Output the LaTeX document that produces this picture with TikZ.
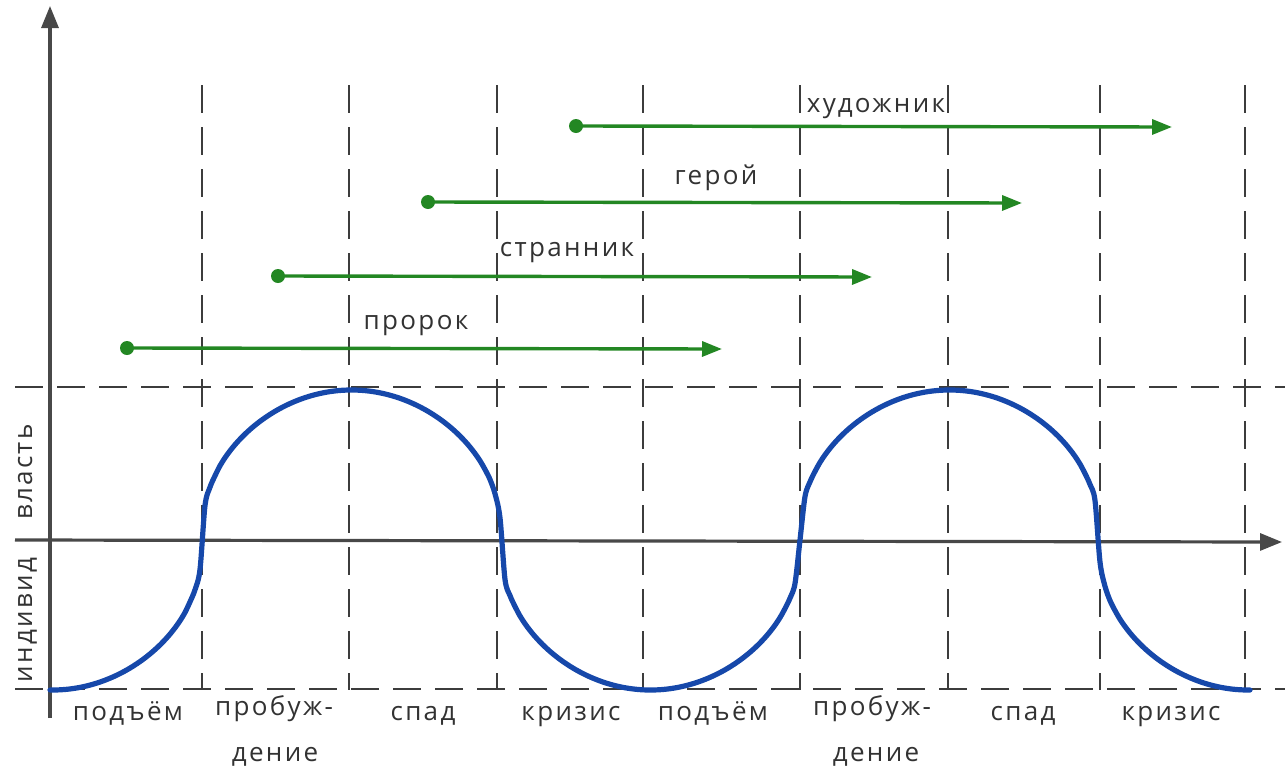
\documentclass[tikz,border=0pt]{standalone}
\usepackage{fontspec}
\setmainfont{Open Sans}[LetterSpace=9]
\usetikzlibrary{arrows.meta}
\definecolor{axisgray}{RGB}{72,72,72}
\definecolor{gridgray}{RGB}{60,60,60}
\definecolor{curveblue}{RGB}{22,72,170}
\definecolor{arrowgreen}{RGB}{35,135,35}
\definecolor{textgray}{RGB}{50,50,50}
\begin{document}
\begin{tikzpicture}[x=1pt,y=-1pt,
  axisline/.style={draw=axisgray, line width=3.2pt, -{Triangle[length=22pt,width=17pt]}},
  gridline/.style={draw=gridgray, line width=2pt, dash pattern=on 28pt off 14pt},
  lbl/.style={text=textgray, font=\fontsize{26}{30}\selectfont, inner sep=0pt, anchor=base},
  startdot/.style={circle, fill=arrowgreen, minimum size=14pt, inner sep=0pt},
  timeline/.style={draw=arrowgreen, line width=3.4pt, -{Triangle[length=20pt,width=15pt]}},
  curve/.style={draw=curveblue, line width=5.2pt, line join=round, line cap=round},
]
\useasboundingbox (0,0) rectangle (1285,769);

% grid
\foreach \x [count=\i] in {202,349,497,643,800,948,1100,1245} {
  \coordinate (vt\i) at (\x,85);
  \coordinate (vb\i) at (\x,690);
  \draw[gridline] (vt\i) -- (vb\i);
}
\coordinate (htl) at (15,387); \coordinate (htr) at (1285,387);
\coordinate (hbl) at (15,689); \coordinate (hbr) at (1285,689);
\draw[gridline] (htl) -- (htr);
\draw[gridline] (hbl) -- (hbr);

% axes
\coordinate (yb) at (50,718); \coordinate (yt) at (50,6);
\coordinate (xl) at (15,540); \coordinate (xr) at (1282,542);
\draw[axisline] (yb) -- (yt);
\draw[axisline] (xl) -- (xr);

% curve
\draw[curve] plot[domain=50:1250, samples=241, smooth]
  (\x, {540-150*sin((\x-202)/299*180)*pow(max(abs(sin((\x-202)/299*180)),0.00001),-0.58)});

% green timelines
\node[startdot] (p1) at (127,348) {}; \coordinate (p1e) at (722,349);
\node[startdot] (p2) at (278,276) {}; \coordinate (p2e) at (872,277);
\node[startdot] (p3) at (428,202) {}; \coordinate (p3e) at (1022,203);
\node[startdot] (p4) at (576,126) {}; \coordinate (p4e) at (1172,127);
\draw[timeline] (p1.center) -- (p1e);
\draw[timeline] (p2.center) -- (p2e);
\draw[timeline] (p3.center) -- (p3e);
\draw[timeline] (p4.center) -- (p4e);

\node[lbl] (t1) at (416,329) {пророк};
\node[lbl] (t2) at (567,256) {странник};
\node[lbl] (t3) at (716,184) {герой};
\node[lbl] (t4) at (876,112) {художник};

% bottom labels
\node[lbl] (b1) at (128,720) {подъём};
\node[lbl] (b2) at (274,715) {пробуж-};
\node[lbl] (b2b) at (275,761) {дение};
\node[lbl] (b3) at (423,720) {спад};
\node[lbl] (b4) at (571,720) {кризис};
\node[lbl] (b5) at (713,720) {подъём};
\node[lbl] (b6) at (872,715) {пробуж-};
\node[lbl] (b6b) at (876,761) {дение};
\node[lbl] (b7) at (1023,720) {спад};
\node[lbl] (b8) at (1171,720) {кризис};

% left labels
\node[lbl, rotate=90] (l1) at (32,472) {власть};
\node[lbl, rotate=90] (l2) at (32,620) {индивид};
\end{tikzpicture}
\end{document}
